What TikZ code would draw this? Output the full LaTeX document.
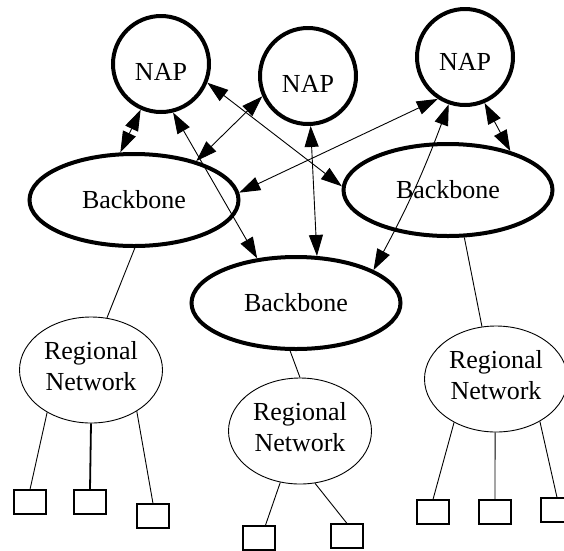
\documentclass[tikz,border=0pt]{standalone}
\usepackage{fontspec}
\setmainfont{Liberation Serif}
\usetikzlibrary{arrows.meta,shapes.geometric}
\begin{document}
\begin{tikzpicture}[x=1pt,y=-1pt,
  lbl/.style={font=\fontsize{26}{31}\selectfont},
  nap/.style={circle,draw,line width=4pt,minimum size=96pt,inner sep=0pt,lbl,text height=32pt},
  bb/.style={ellipse,draw,line width=4pt,minimum width=209pt,minimum height=92pt,inner sep=0pt,lbl},
  reg/.style={ellipse,draw,line width=0.9pt,minimum width=143pt,minimum height=106pt,inner sep=0pt,align=center,lbl,text depth=9pt},
  host/.style={rectangle,draw,line width=1.1pt,minimum width=32pt,minimum height=24pt,inner sep=0pt},
  link/.style={line width=0.9pt},
  biarrow/.style={line width=0.9pt,arrows={Triangle[length=21pt,width=14pt]-Triangle[length=21pt,width=14pt]}}
]
\path[use as bounding box,fill=white] (0,0) rectangle (564,550);
\clip (0,0) rectangle (564,550);

\node[nap] (nap1) at (161,64) {NAP};
\node[nap] (nap2) at (308,76) {NAP};
\node[nap,text height=26pt] (nap3) at (465,57) {NAP};
\node[bb] (bb1) at (134,200) {Backbone};
\node[bb] (bb2) at (296,303) {Backbone};
\node[bb] (bb3) at (448,190) {Backbone};
\node[reg] (reg1) at (91,370) {Regional\\Network};
\node[reg] (reg2) at (300,431) {Regional\\Network};
\node[reg] (reg3) at (496,379) {Regional\\Network};
\node[host] (sq1) at (30,502) {};
\node[host] (sq2) at (90,502) {};
\node[host] (sq3) at (153,516) {};
\node[host] (sq4) at (259,538) {};
\node[host] (sq5) at (347,536) {};
\node[host] (sq6) at (433,512) {};
\node[host] (sq7) at (495,512) {};
\node[host] (sq8) at (557,510) {};

\draw[biarrow] (nap1.246) -- (bb1.106);
\draw[biarrow] (nap2.204) -- (bb1.32);
\draw[biarrow] (nap1.-22) -- (bb3.178);
\draw[biarrow] (nap1.-76) -- (bb2.131);
\draw[biarrow] (nap3.-123) -- (bb1.4);
\draw[biarrow] (nap2.-87) -- (bb2.66);
\draw[biarrow] (nap3.-109) to[bend left=4] (bb2.23);
\draw[biarrow] (nap3.-67) -- (bb3.32);

\draw[link] (bb1.-89) -- (reg1.73);
\draw[link] (bb2.-97) -- (reg2.90);
\draw[link] (bb3.-71) -- (reg3.105);
\draw[link] (reg1.-136) -- (sq1.north);
\draw[link,line width=1.8pt] (reg1.south) -- (sq2.north);
\draw[link] (reg1.-42) -- (sq3.north);
\draw[link] (reg2.-111) -- (sq4.63);
\draw[link] (reg2.-74) -- (sq5.north);
\draw[link] (reg3.-134) -- (sq6.north);
\draw[link] (reg3.-91) -- (sq7.north);
\draw[link] (reg3.-44) -- (sq8.north);
\end{tikzpicture}
\end{document}
